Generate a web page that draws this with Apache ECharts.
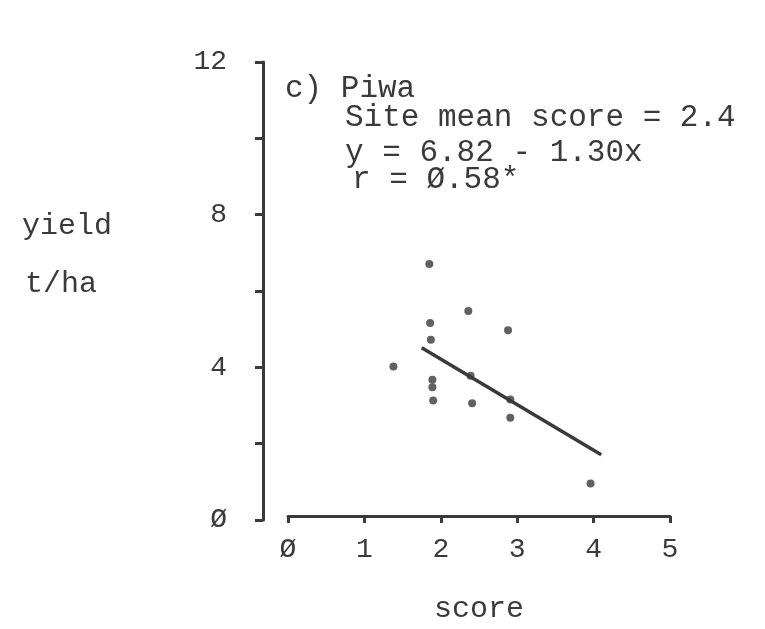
<!DOCTYPE html>
<html>
<head>
<meta charset="utf-8">
<script src="https://cdn.jsdelivr.net/npm/echarts@6/dist/echarts.min.js"></script>
<style>
html,body{margin:0;padding:0;background:#fff;}
#chart{width:765px;height:629px;}
</style>
</head>
<body>
<div id="chart"></div>
<script>
// Data
const scoreX = [1.85, 2.36, 1.86, 2.88, 1.87, 1.38, 1.89, 1.89, 1.90, 2.41, 2.91, 3.96, 2.39, 2.91];
const yieldY = [6.66, 5.42, 5.10, 4.91, 4.66, 3.95, 3.60, 3.40, 3.05, 2.98, 2.60, 0.86, 3.71, 3.08];
const fitX = [1.75, 4.10];
const fitY = [4.45, 1.62];
const yTickLabels = ['Ø', '', '4', '', '8', '', '12'];
const xTickLabels = ['Ø', '1', '2', '3', '4', '5'];
const annotationLines = ['c) Piwa', 'Site mean score = 2.4', 'y = 6.82 - 1.30x', 'r = Ø.58*'];
const yNameLines = ['yield', 't/ha'];
const xName = 'score';

const FONT = '"Liberation Mono", "DejaVu Sans Mono", monospace';
const INK = '#3a3a3a';

const chart = echarts.init(document.getElementById('chart'), null, {renderer: 'canvas'});

const points = scoreX.map((x, i) => [x, yieldY[i]]);
const fit = fitX.map((x, i) => [x, fitY[i]]);

const option = {
  backgroundColor: '#ffffff',
  animation: false,
  grid: [
    {left: 263, top: 62, bottom: 109, width: 10},
    {left: 288, right: 95, top: 62, bottom: 109}
  ],
  xAxis: [
    {gridIndex: 0, type: 'value', show: false, min: 0, max: 1},
    {
      gridIndex: 1, type: 'value', min: 0, max: 5, interval: 1,
      axisLine: {show: true, lineStyle: {color: INK, width: 3}},
      axisTick: {show: true, inside: false, length: 7, lineStyle: {color: INK, width: 3}},
      splitLine: {show: false},
      axisLabel: {
        margin: 20, color: INK, fontFamily: FONT, fontSize: 28,
        formatter: (v) => xTickLabels[Math.round(v)]
      },
      name: xName, nameLocation: 'middle', nameGap: 78,
      nameTextStyle: {color: INK, fontFamily: FONT, fontSize: 30}
    }
  ],
  yAxis: [
    {
      gridIndex: 0, type: 'value', min: 0, max: 12, interval: 2,
      axisLine: {show: true, lineStyle: {color: INK, width: 3}},
      axisTick: {show: true, inside: false, length: 8, lineStyle: {color: INK, width: 3}},
      splitLine: {show: false},
      axisLabel: {
        margin: 36, color: INK, fontFamily: FONT, fontSize: 28,
        formatter: (v) => yTickLabels[Math.round(v / 2)]
      }
    },
    {gridIndex: 1, type: 'value', show: false, min: 0, max: 12}
  ],
  graphic: [
    ...yNameLines.map((t, i) => ({
      type: 'text', x: [22, 25][i], y: [226, 284][i],
      style: {text: t, font: '30px ' + FONT, fill: INK, verticalAlign: 'middle'}
    })),
    ...annotationLines.map((t, i) => ({
      type: 'text', x: [285, 345, 345, 352][i], y: [89, 118, 153, 180][i],
      style: {text: t, font: '31px ' + FONT, fill: INK, verticalAlign: 'middle'}
    }))
  ],
  series: [
    {
      type: 'scatter', xAxisIndex: 1, yAxisIndex: 1,
      data: points, symbol: 'circle', symbolSize: 8,
      itemStyle: {color: INK}
    },
    {
      type: 'line', xAxisIndex: 1, yAxisIndex: 1,
      data: fit, symbol: 'none',
      lineStyle: {color: INK, width: 3.5}
    }
  ]
};
chart.setOption(option);
</script>
</body>
</html>
